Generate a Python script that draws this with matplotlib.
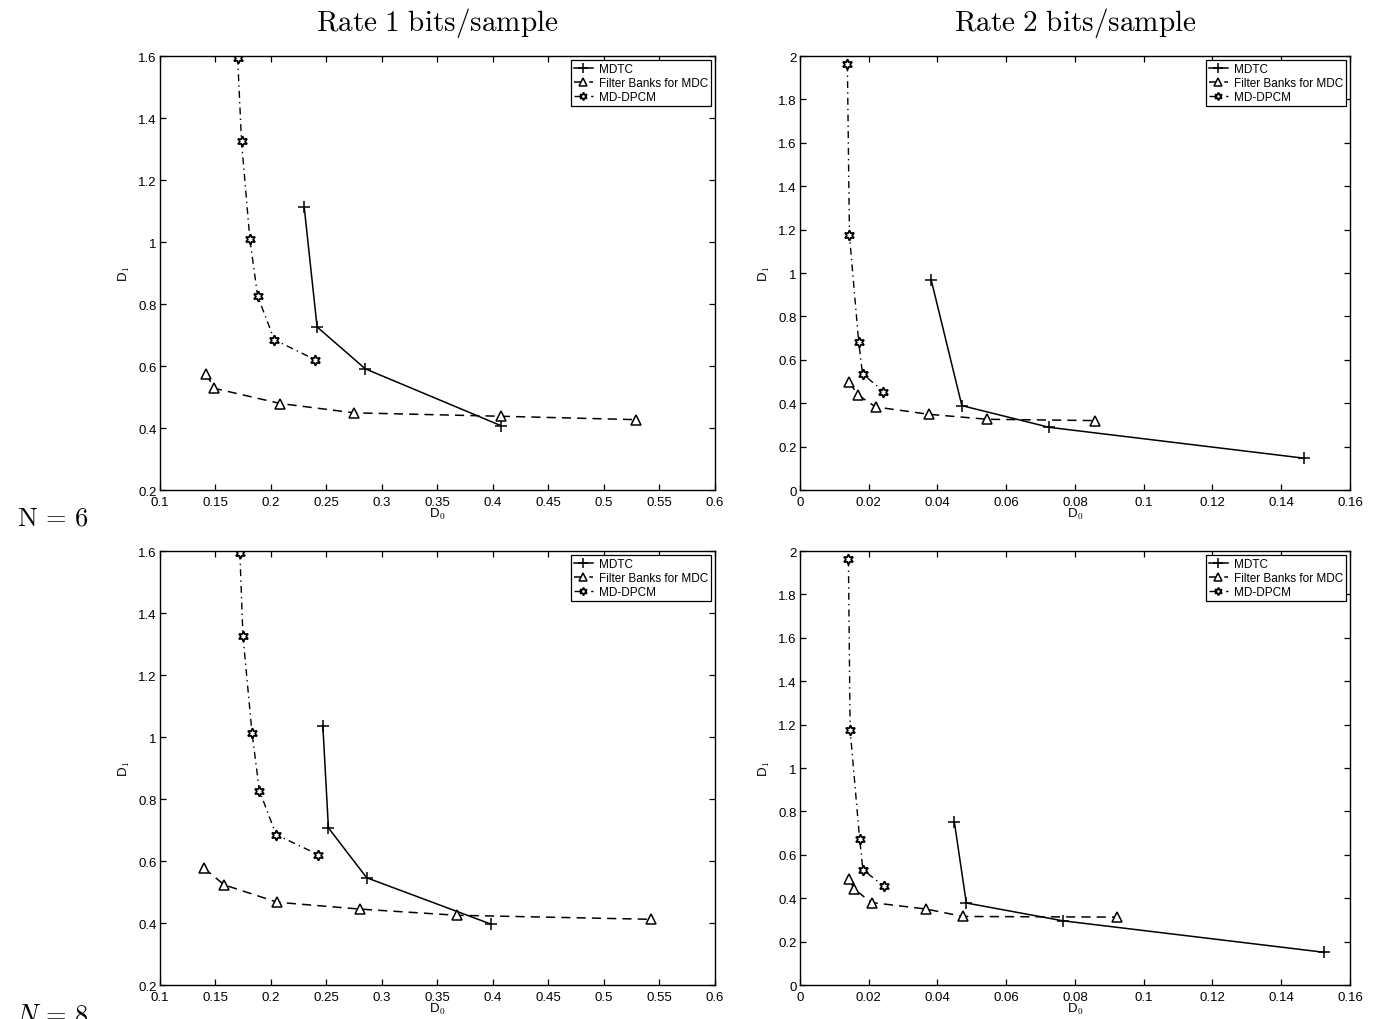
import matplotlib
matplotlib.use("Agg")
import matplotlib.pyplot as plt

plt.rcParams["font.family"] = ["Liberation Sans", "DejaVu Sans"]
plt.rcParams["mathtext.fontset"] = "cm"

# Rate 1 bits/sample, N = 6
r1n6_mdtc_d0 = [0.230, 0.2416, 0.285, 0.407]
r1n6_mdtc_d1 = [1.112, 0.726, 0.591, 0.408]
r1n6_fb_d0 = [0.1416, 0.149, 0.2086, 0.275, 0.407, 0.529]
r1n6_fb_d1 = [0.575, 0.528, 0.479, 0.449, 0.438, 0.427]
r1n6_dpcm_d0 = [0.170, 0.1735, 0.181, 0.188, 0.203, 0.240]
r1n6_dpcm_d1 = [1.595, 1.325, 1.010, 0.826, 0.685, 0.620]

# Rate 2 bits/sample, N = 6
r2n6_mdtc_d0 = [0.0382, 0.0471, 0.0725, 0.1465]
r2n6_mdtc_d1 = [0.967, 0.389, 0.289, 0.147]
r2n6_fb_d0 = [0.0144, 0.0168, 0.0220, 0.0375, 0.0545, 0.0858]
r2n6_fb_d1 = [0.497, 0.439, 0.383, 0.349, 0.326, 0.320]
r2n6_dpcm_d0 = [0.0138, 0.0144, 0.0171, 0.0182, 0.0243]
r2n6_dpcm_d1 = [1.961, 1.175, 0.680, 0.536, 0.454]

# Rate 1 bits/sample, N = 8
r1n8_mdtc_d0 = [0.2468, 0.2518, 0.2863, 0.3986]
r1n8_mdtc_d1 = [1.035, 0.707, 0.546, 0.396]
r1n8_fb_d0 = [0.1396, 0.158, 0.2058, 0.280, 0.3676, 0.5425]
r1n8_fb_d1 = [0.577, 0.523, 0.467, 0.445, 0.425, 0.412]
r1n8_dpcm_d0 = [0.172, 0.1748, 0.183, 0.1896, 0.2047, 0.2424]
r1n8_dpcm_d1 = [1.595, 1.326, 1.012, 0.827, 0.685, 0.621]

# Rate 2 bits/sample, N = 8
r2n8_mdtc_d0 = [0.0449, 0.0484, 0.0765, 0.1524]
r2n8_mdtc_d1 = [0.753, 0.378, 0.296, 0.151]
r2n8_fb_d0 = [0.0144, 0.0157, 0.0209, 0.0368, 0.0474, 0.0921]
r2n8_fb_d1 = [0.490, 0.442, 0.380, 0.350, 0.316, 0.313]
r2n8_dpcm_d0 = [0.0141, 0.0146, 0.01735, 0.0183, 0.0244]
r2n8_dpcm_d1 = [1.961, 1.176, 0.675, 0.532, 0.455]

labels = ["MDTC", "Filter Banks for MDC", "MD-DPCM"]
col_titles = [r"$\mathrm{Rate\ 1\ bits/sample}$", r"$\mathrm{Rate\ 2\ bits/sample}$"]
row_labels = [r"$\mathrm{N}\,=\,6$", r"$N\,=\,8$"]

rate1_xticks = [0.1, 0.15, 0.2, 0.25, 0.3, 0.35, 0.4, 0.45, 0.5, 0.55, 0.6]
rate1_yticks = [0.2, 0.4, 0.6, 0.8, 1.0, 1.2, 1.4, 1.6]
rate2_xticks = [0, 0.02, 0.04, 0.06, 0.08, 0.1, 0.12, 0.14, 0.16]
rate2_yticks = [0, 0.2, 0.4, 0.6, 0.8, 1.0, 1.2, 1.4, 1.6, 1.8, 2.0]

panels = [
    (r1n6_mdtc_d0, r1n6_mdtc_d1, r1n6_fb_d0, r1n6_fb_d1, r1n6_dpcm_d0, r1n6_dpcm_d1),
    (r2n6_mdtc_d0, r2n6_mdtc_d1, r2n6_fb_d0, r2n6_fb_d1, r2n6_dpcm_d0, r2n6_dpcm_d1),
    (r1n8_mdtc_d0, r1n8_mdtc_d1, r1n8_fb_d0, r1n8_fb_d1, r1n8_dpcm_d0, r1n8_dpcm_d1),
    (r2n8_mdtc_d0, r2n8_mdtc_d1, r2n8_fb_d0, r2n8_fb_d1, r2n8_dpcm_d0, r2n8_dpcm_d1),
]

fig = plt.figure(figsize=(13.74, 10.20), dpi=100)

col_left = [0.1164, 0.5822]
col_width = [0.4039, 0.4003]
row_bottom = [0.5186, 0.0333]
row_height = 0.4255

# six-pointed star, like MATLAB's hexagram
hexagram = (6, 1, 0)

for idx, data in enumerate(panels):
    row, col = divmod(idx, 2)
    ax = fig.add_axes([col_left[col], row_bottom[row], col_width[col], row_height])
    m_x, m_y, f_x, f_y, d_x, d_y = data

    ax.plot(m_x, m_y, "-", color="black", lw=1.1, marker="+", ms=9, mew=1.1,
            label=labels[0])
    ax.plot(f_x, f_y, "--", color="black", lw=1.1, dashes=(6, 4), marker="^",
            ms=7, mfc="white", mec="black", mew=1.1, label=labels[1])
    ax.plot(d_x, d_y, "-.", color="black", lw=1.0, dashes=(5, 3, 1, 3),
            marker=hexagram, ms=7.5, mfc="white", mec="black", mew=1.3,
            label=labels[2])

    if col == 0:
        xt, yt = rate1_xticks, rate1_yticks
    else:
        xt, yt = rate2_xticks, rate2_yticks
    ax.set_xlim(xt[0], xt[-1])
    ax.set_ylim(yt[0], yt[-1])
    ax.set_xticks(xt)
    ax.set_yticks(yt)
    ax.set_xticklabels([f"{v:g}" for v in xt])
    ax.set_yticklabels([f"{v:g}" for v in yt])
    ax.tick_params(direction="in", top=True, right=True, length=4, width=0.9,
                   labelsize=9.5)
    ax.tick_params(axis="x", pad=4)
    ax.tick_params(axis="y", pad=2.5)
    for spine in ax.spines.values():
        spine.set_linewidth(1.0)

    ax.set_xlabel(r"D$_0$", fontsize=9.5, labelpad=-1)
    ax.set_ylabel(r"D$_1$", fontsize=9.5, labelpad=4)

    leg = ax.legend(loc="upper right", fontsize=8.5, fancybox=False,
                    edgecolor="black", framealpha=1, borderpad=0.25,
                    labelspacing=0.15, handlelength=1.6, handletextpad=0.5,
                    borderaxespad=0.35, markerscale=0.75)
    leg.get_frame().set_linewidth(0.9)

for col in range(2):
    xc = col_left[col] + col_width[col] / 2
    fig.text(xc, 0.977, col_titles[col], ha="center", va="center", fontsize=21)

fig.text(0.038, 0.492, row_labels[0], ha="center", va="center", fontsize=19)
fig.text(0.038, 0.004, row_labels[1], ha="center", va="center", fontsize=19)

fig.savefig("out.png", dpi=100)
